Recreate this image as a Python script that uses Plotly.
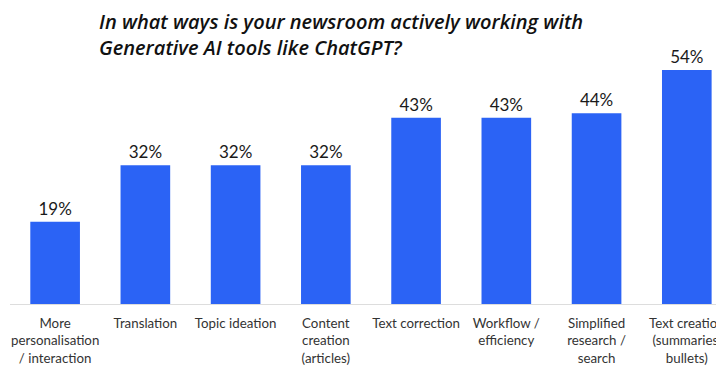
import plotly.graph_objects as go

categories = [
    "More<br>personalisation<br>/ interaction",
    "Translation",
    "Topic ideation",
    "Content<br>creation<br>(articles)",
    "Text correction",
    "Workflow /<br>efficiency",
    "Simplified<br>research /<br>search",
    "Text creation<br>(summaries,<br>bullets)",
]
values = [19, 32, 32, 32, 43, 43, 44, 54]
value_labels = [f"{v}%" for v in values]
title_text = "In what ways is your newsroom actively working with<br>Generative AI tools like ChatGPT?"

FONT = "Lato, 'Open Sans', sans-serif"
TITLE_FONT = "'Open Sans', Lato, sans-serif"

W, H = 716, 358
L, R, T, B = 2, 0, 52, 59
plot_w = W - L - R
plot_h = H - T - B

fig = go.Figure(
    go.Bar(
        x=list(range(len(categories))),
        y=values,
        text=value_labels,
        textposition="outside",
        textfont=dict(family=FONT, size=17, color="#1a1a1a"),
        marker=dict(color="#2B63F5", line=dict(width=0)),
        width=0.55,
        cliponaxis=False,
    )
)

fig.update_layout(
    width=W,
    height=H,
    paper_bgcolor="white",
    plot_bgcolor="white",
    margin=dict(l=L, r=R, t=T, b=B),
    showlegend=False,
    annotations=[
        dict(
            text=title_text,
            font=dict(family=TITLE_FONT, size=20, color="#111111",
                      weight=600, style="italic"),
            xref="paper",
            yref="paper",
            x=(89 - L) / plot_w,
            y=1 + (T - 26) / plot_h,
            xanchor="left",
            yanchor="middle",
            align="left",
            showarrow=False,
        )
    ],
)

fig.update_xaxes(
    tickmode="array",
    tickvals=list(range(len(categories))),
    ticktext=categories,
    tickfont=dict(family=FONT, size=13.3, color="#333333"),
    range=[-0.5, 7.39],
    showline=True,
    linecolor="#dddddd",
    linewidth=1,
    ticks="",
    showgrid=False,
    zeroline=False,
    ticklabelstandoff=7,
    ticklabeloverflow="allow",
)
fig.update_yaxes(
    range=[0, 56.3],
    visible=False,
    showgrid=False,
    zeroline=False,
)

fig.write_html("out.html")
